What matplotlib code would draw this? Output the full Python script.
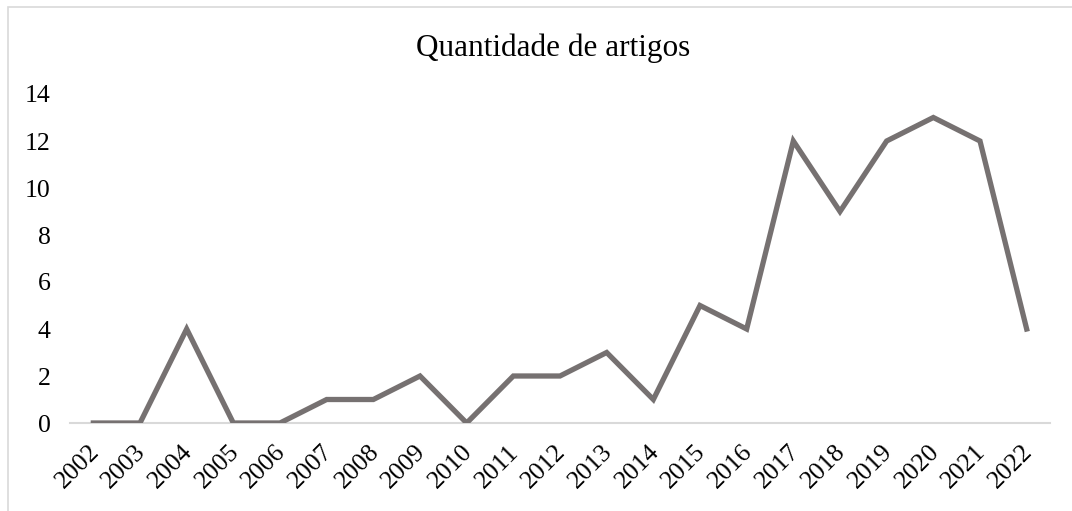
import matplotlib
matplotlib.use("Agg")
import matplotlib.pyplot as plt
from matplotlib.patches import Rectangle
import matplotlib.transforms as mtransforms

years = ["2002", "2003", "2004", "2005", "2006", "2007", "2008", "2009", "2010", "2011",
         "2012", "2013", "2014", "2015", "2016", "2017", "2018", "2019", "2020", "2021", "2022"]
artigos = [0, 0, 4, 0, 0, 1, 1, 2, 0, 2, 2, 3, 1, 5, 4, 12, 9, 12, 13, 12, 4]
y_ticks = [0, 2, 4, 6, 8, 10, 12, 14]
title = "Quantidade de artigos"

plt.rcParams['font.family'] = ['Liberation Serif', 'DejaVu Serif']

W, H = 1072, 511
fig = plt.figure(figsize=(W / 100, H / 100), dpi=100)

# chart-area border (left and top visible)
fig.patches.append(Rectangle((8 / W, -0.1), 1.2, 1 - 7 / H + 0.1, transform=fig.transFigure,
                             fill=False, edgecolor="#d9d9d9", linewidth=1.2))

ax = fig.add_axes([70 / W, (H - 423) / H, 980 / W, (423 - 94) / H])
x = list(range(len(years)))
ax.plot(x, artigos, color="#767171", linewidth=3.8, solid_joinstyle="miter")
ax.set_xlim(-0.5, len(years) - 0.5)
ax.set_ylim(0, 14)
ax.set_yticks(y_ticks)
ax.set_yticklabels([str(v) for v in y_ticks])
ax.set_xticks(x)
ax.set_xticklabels(years, rotation=45, ha="right", va="top")
for s in ["top", "right", "left"]:
    ax.spines[s].set_visible(False)
ax.spines["bottom"].set_color("#d9d9d9")
ax.spines["bottom"].set_linewidth(1.5)
ax.spines["bottom"].set_zorder(0)
ax.tick_params(axis="both", length=0, labelsize=18.5, labelcolor="black")
ax.tick_params(axis="y", pad=14)
ax.tick_params(axis="x", pad=13)
offset = mtransforms.ScaledTranslation(10 / 100, 0, fig.dpi_scale_trans)
for lbl in ax.get_xticklabels():
    lbl.set_transform(lbl.get_transform() + offset)

fig.text(553 / W, 1 - 48 / H, title, ha="center", va="center", fontsize=22.5, color="black")

fig.savefig("out.png", dpi=100)
